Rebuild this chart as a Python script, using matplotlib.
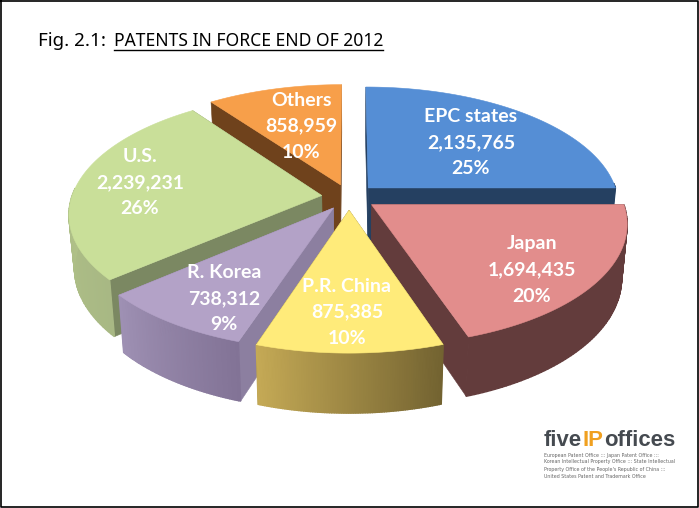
import numpy as np
import matplotlib
matplotlib.use("Agg")
import matplotlib.pyplot as plt

# datos del grafico
oficinas = ["EPC states", "Japan", "P.R. China", "R. Korea", "U.S.", "Others"]
patentes = [2135765, 1694435, 875385, 738312, 2239231, 858959]
porcentajes = ["25%", "20%", "10%", "9%", "26%", "10%"]

# colores: cara superior, paredes radiales, pared exterior (izq, der)
color_top = ["#558ed5", "#e28d8c", "#ffeb7a", "#b3a2c7", "#c9df99", "#f79f4a"]
color_lado = ["#254061", "#633c3c", "#776632", "#8c7fa0", "#7b8862", "#6f421c"]
color_ext_a = ["#254061", "#633c3c", "#c4a955", "#9e90b3", "#b0c188", "#6f421c"]
color_ext_b = ["#254061", "#633c3c", "#736331", "#827396", "#a8b884", "#6f421c"]

# centro de cada etiqueta en pixeles
pos_etiquetas = [(471, 143), (532, 270), (347, 312), (224, 299), (140, 183), (301, 126)]

# geometria de la proyeccion
CX, CY = 349, 197
RX, RY = 250, 118
PERSP = 0.145
ALTO = 53
FUGA = 0.02
EXPLOSION = 0.11


def proyectar(u, v, z=0.0):
    s = 1.0 / (1.0 + PERSP * v)
    k = 1.0 - FUGA * z  # la base queda un poco mas lejos de la camara
    return CX + RX * u * s * k, CY - RY * v * s * k + ALTO * z * s


def mezclar(c1, c2, t):
    a = np.array(matplotlib.colors.to_rgb(c1))
    b = np.array(matplotlib.colors.to_rgb(c2))
    return tuple(a + (b - a) * t)


def poligono(ax, puntos, color, lw=0.4):
    xs, ys = zip(*puntos)
    ax.fill(xs, ys, facecolor=color, edgecolor=color, linewidth=lw)


def dibujar_porcion(ax, i, ini, fin):
    medio = (ini + fin) / 2
    ou = EXPLOSION * np.sin(medio)
    ov = EXPLOSION * np.cos(medio)
    angulos = np.linspace(ini, fin, 80)
    us = ou + np.sin(angulos)
    vs = ov + np.cos(angulos)

    # paredes radiales, primero la que queda atras
    lados = []
    for ang, signo in ((ini, -1), (fin, 1)):
        normal_v = signo * -np.sin(ang)
        lados.append((normal_v, ang))
    lados.sort(key=lambda l: -l[0])
    for normal_v, ang in lados:
        u, v = ou + np.sin(ang), ov + np.cos(ang)
        poligono(ax, [proyectar(ou, ov), proyectar(u, v), proyectar(u, v, 1), proyectar(ou, ov, 1)],
                 color_lado[i])

    # pared exterior por tiras, solo la parte frontal
    visibles = [k for k in range(len(angulos) - 1) if np.cos(angulos[k]) < 0.05]
    for n, k in enumerate(visibles):
        t = n / max(len(visibles) - 1, 1)
        # el angulo crece de derecha a izquierda en el frente
        col = mezclar(color_ext_b[i], color_ext_a[i], t)
        poligono(ax, [proyectar(us[k], vs[k]), proyectar(us[k + 1], vs[k + 1]),
                      proyectar(us[k + 1], vs[k + 1], 1), proyectar(us[k], vs[k], 1)], col, lw=1.0)

    # cara superior
    puntos = [proyectar(ou, ov)] + [proyectar(a, b) for a, b in zip(us, vs)]
    poligono(ax, puntos, color_top[i])


fig = plt.figure(figsize=(6.99, 5.08), dpi=100)
ax = fig.add_axes([0, 0, 1, 1])
ax.set_xlim(0, 699)
ax.set_ylim(508, 0)
ax.axis("off")

# angulos desde arriba en sentido horario
fracciones = np.array(patentes) / sum(patentes)
bordes = np.concatenate([[0], np.cumsum(fracciones)]) * 2 * np.pi

orden = sorted(range(len(patentes)), key=lambda i: -np.cos((bordes[i] + bordes[i + 1]) / 2))
for i in orden:
    dibujar_porcion(ax, i, bordes[i], bordes[i + 1])

for i, (x, y) in enumerate(pos_etiquetas):
    textos = [oficinas[i], f"{patentes[i]:,}", porcentajes[i]]
    for j, t in enumerate(textos):
        ax.text(x, y + (j - 1) * 26, t, color="white", fontsize=14, fontweight="bold",
                family="Lato", ha="center", va="center")

# titulo
ax.text(38, 41, "Fig. 2.1:", fontsize=13.5, family="Noto Sans", color="black", ha="left", va="center")
ax.text(114, 41, "PATENTS IN FORCE END OF 2012", fontsize=12.6, family="Noto Sans",
        color="black", ha="left", va="center")
ax.plot([114, 383], [50, 50], color="black", lw=1)

# logo
fuente_logo = dict(fontsize=15.9, fontweight="bold", family="Liberation Sans", va="center")
ax.text(544, 440, "five", color="#454a50", **fuente_logo)
ax.text(583, 440, "IP", color="#f0a020", **fuente_logo)
ax.text(604, 440, "offices", color="#454a50", **fuente_logo)
lineas_logo = ["European Patent Office ::: Japan Patent Office :::",
               "Korean Intellectual Property Office ::: State Intellectual",
               "Property Office of the People's Republic of China :::",
               "United States Patent and Trademark Office"]
for n, linea in enumerate(lineas_logo):
    ax.text(544, 455 + n * 7, linea, fontsize=3.45, color="#666666", va="center")

# marco negro
ax.plot([0.5, 698, 698, 0.5, 0.5], [0.5, 0.5, 507, 507, 0.5], color="black", lw=1.2, clip_on=False)

fig.savefig("out.png", dpi=100)
